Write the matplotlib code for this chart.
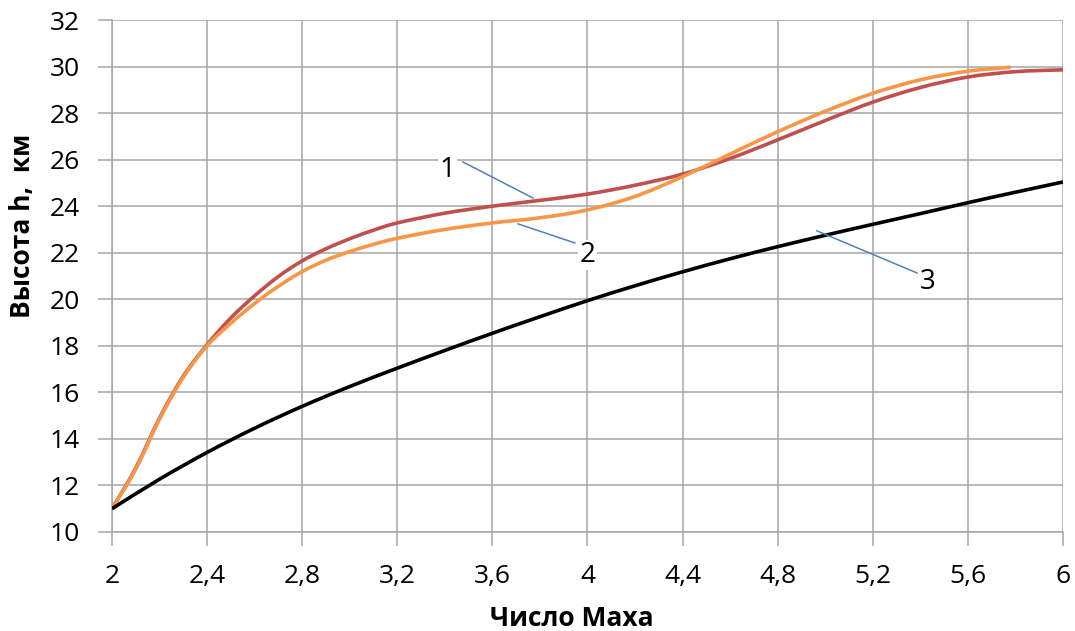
import numpy as np
import matplotlib.pyplot as plt
from matplotlib.path import Path
from matplotlib.patches import PathPatch
from matplotlib.ticker import FuncFormatter

plt.rcParams['font.family'] = ['Open Sans', 'DejaVu Sans']

# Число Маха (ось X) и высота, км
mach_1 = [2.0, 2.1, 2.2, 2.3, 2.4, 2.5, 2.6, 2.7, 2.8, 2.9, 3.0, 3.1, 3.2, 3.4, 3.6,
          3.8, 4.0, 4.2, 4.4, 4.6, 4.8, 5.0, 5.2, 5.4, 5.6, 5.8, 6.0]
height_1 = [11.0, 12.75, 14.9, 16.7, 18.05, 19.2, 20.15, 20.98, 21.65, 22.17, 22.6, 22.97, 23.28, 23.7, 24.0,
            24.25, 24.52, 24.9, 25.38, 26.05, 26.85, 27.68, 28.47, 29.1, 29.55, 29.78, 29.86]

mach_2 = [2.0, 2.1, 2.2, 2.3, 2.4, 2.5, 2.6, 2.7, 2.8, 2.9, 3.0, 3.1, 3.2, 3.4, 3.6,
          3.8, 4.0, 4.2, 4.4, 4.6, 4.8, 5.0, 5.2, 5.4, 5.6, 5.78]
height_2 = [11.0, 12.7, 14.85, 16.65, 18.0, 18.97, 19.82, 20.56, 21.19, 21.68, 22.05, 22.36, 22.62, 23.0, 23.28,
            23.5, 23.84, 24.42, 25.27, 26.24, 27.2, 28.08, 28.85, 29.43, 29.8, 29.97]

mach_3 = [2.0, 2.2, 2.4, 2.6, 2.8, 3.0, 3.2, 3.4, 3.6, 3.8, 4.0, 4.2, 4.4, 4.6, 4.8, 5.0, 5.2, 5.4, 5.6, 5.8, 6.0]
height_3 = [11.0, 12.27, 13.42, 14.46, 15.4, 16.25, 17.04, 17.8, 18.54, 19.25, 19.94, 20.58, 21.18, 21.74,
            22.26, 22.75, 23.22, 23.68, 24.15, 24.6, 25.04]

# подписи кривых: номер, позиция текста, концы выносной линии
curve_labels = ['1', '2', '3']
label_pos = [(3.41, 25.7), (4.0, 22.05), (5.43, 20.9)]
leader_start = [(3.476, 25.9), (3.947, 22.42), (5.386, 21.13)]
leader_end = [(3.771, 24.35), (3.708, 23.24), (4.965, 22.94)]

x_ticks = [2.0, 2.4, 2.8, 3.2, 3.6, 4.0, 4.4, 4.8, 5.2, 5.6, 6.0]
y_ticks = list(range(10, 33, 2))


def smooth_path(xs, ys):
    # сглаженная линия через точки (кривые Безье по схеме Катмулла-Рома)
    p = np.column_stack([xs, ys]).astype(float)
    ext = np.vstack([p[0], p, p[-1]])
    verts = [p[0]]
    codes = [Path.MOVETO]
    for i in range(1, len(ext) - 2):
        c1 = ext[i] + (ext[i + 1] - ext[i - 1]) / 6
        c2 = ext[i + 1] - (ext[i + 2] - ext[i]) / 6
        verts += [c1, c2, ext[i + 1]]
        codes += [Path.CURVE4] * 3
    return Path(verts, codes)


def draw_curve(ax, xs, ys, color, z):
    patch = PathPatch(smooth_path(xs, ys), fill=False, edgecolor=color, lw=2.6,
                      capstyle='butt', joinstyle='round', zorder=z)
    ax.add_patch(patch)


fig = plt.figure(figsize=(10.75, 6.31), dpi=100)
ax = fig.add_axes([0.1042, 0.1569, 0.8846, 0.8114])

grid_color = '#a6a6a6'
draw_curve(ax, mach_1, height_1, '#c0504d', 3)
draw_curve(ax, mach_2, height_2, '#f79646', 4)
draw_curve(ax, mach_3, height_3, 'black', 5)

for txt, pos, p0, p1 in zip(curve_labels, label_pos, leader_start, leader_end):
    ax.plot([p0[0], p1[0]], [p0[1], p1[1]], color='#4f81bd', lw=1.1, zorder=6)
    ax.text(pos[0], pos[1], txt, fontsize=20, ha='center', va='center_baseline', zorder=7,
            bbox=dict(facecolor='white', edgecolor='none', pad=1.0))

ax.set_xlim(2, 6)
ax.set_ylim(10, 32)
ax.set_xticks(x_ticks)
ax.set_yticks(y_ticks)


def comma_fmt(v, pos):
    return f'{v:g}'.replace('.', ',')


ax.xaxis.set_major_formatter(FuncFormatter(comma_fmt))
ax.grid(True, color=grid_color, lw=1.1, zorder=0)
ax.set_axisbelow(True)
for side in ['top', 'right']:
    ax.spines[side].set_visible(False)
for side in ['left', 'bottom']:
    ax.spines[side].set_color(grid_color)
    ax.spines[side].set_linewidth(1.1)
ax.tick_params(axis='both', colors=grid_color, length=10, width=1.1, labelsize=19,
               labelcolor='black')
ax.tick_params(axis='x', pad=13)
ax.tick_params(axis='y', pad=13)

fig.text(0.0205, 0.642, 'Высота h,  км', rotation=90, ha='center', va='center',
         fontsize=19, fontweight='bold')
fig.text(0.532, 0.0206, 'Число Маха', ha='center', va='center', fontsize=19, fontweight='bold')

fig.savefig('out.png', dpi=100)
